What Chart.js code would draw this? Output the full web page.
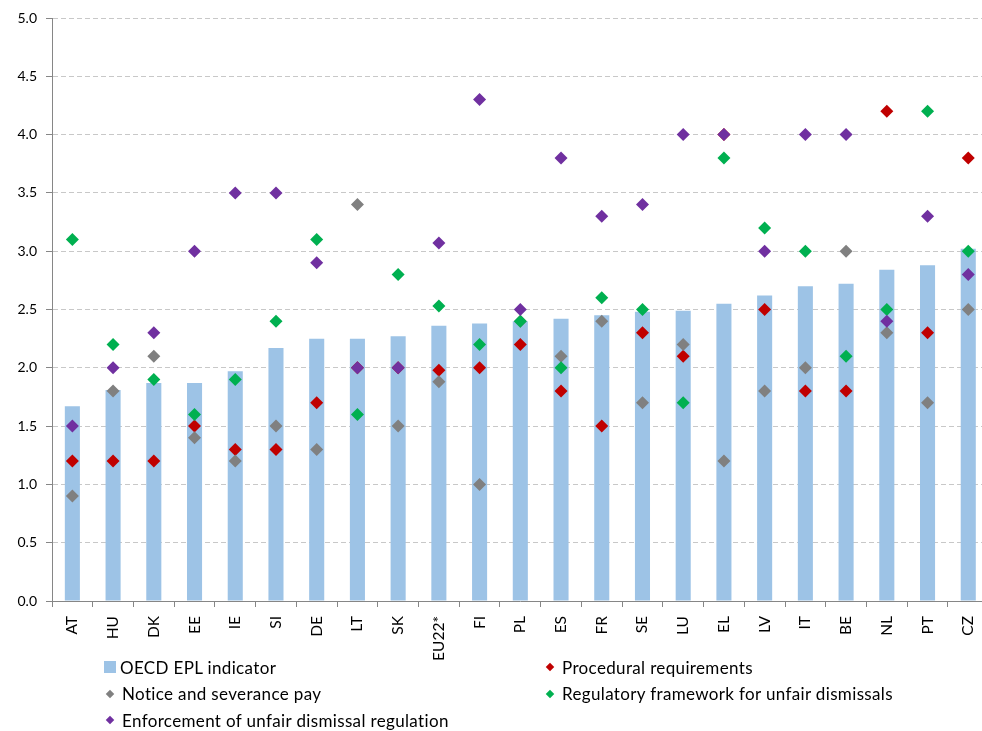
<!DOCTYPE html>
<html>
<head>
<meta charset="utf-8">
<script src="https://cdn.jsdelivr.net/npm/chart.js@4/dist/chart.umd.min.js"></script>
<style>
  html, body { margin: 0; padding: 0; background: #fff; overflow: hidden; }
  #wrap { position: relative; width: 996px; height: 731px; }
  #legend {
    position: absolute; left: 104px; top: 654px;
    display: grid; grid-template-columns: 440px auto; grid-auto-rows: 26.5px;
    font-family: Lato, "DejaVu Sans", sans-serif; font-size: 17px; letter-spacing: 0.35px; color: #000;
  }
  .item { display: flex; align-items: center; white-space: nowrap; }
  .sq { width: 12px; height: 12px; margin-right: 4px; }
  .dm { width: 6px; height: 6px; transform: rotate(45deg); margin: 0 9px 0 3px; }
</style>
</head>
<body>
<div id="wrap">
  <canvas id="myChart"></canvas>
  <div id="legend"></div>
</div>
<script>
// カテゴリと系列データ
const categories = ['AT', 'HU', 'DK', 'EE', 'IE', 'SI', 'DE', 'LT', 'SK', 'EU22*', 'FI', 'PL',
    'ES', 'FR', 'SE', 'LU', 'EL', 'LV', 'IT', 'BE', 'NL', 'PT', 'CZ'];
const eplIndicator = [1.67, 1.81, 1.87, 1.87, 1.97, 2.17, 2.25, 2.25, 2.27, 2.36, 2.38, 2.40,
    2.42, 2.45, 2.48, 2.49, 2.55, 2.62, 2.70, 2.72, 2.84, 2.88, 3.02];
const procedural = [1.2, 1.2, 1.2, 1.5, 1.3, 1.3, 1.7, 2.0, 2.0, 1.98, 2.0, 2.2,
    1.8, 1.5, 2.3, 2.1, 4.0, 2.5, 1.8, 1.8, 4.2, 2.3, 3.8];
const notice = [0.9, 1.8, 2.1, 1.4, 1.2, 1.5, 1.3, 3.4, 1.5, 1.88, 1.0, 2.4,
    2.1, 2.4, 1.7, 2.2, 1.2, 1.8, 2.0, 3.0, 2.3, 1.7, 2.5];
const regulatory = [3.1, 2.2, 1.9, 1.6, 1.9, 2.4, 3.1, 1.6, 2.8, 2.53, 2.2, 2.4,
    2.0, 2.6, 2.5, 1.7, 3.8, 3.2, 3.0, 2.1, 2.5, 4.2, 3.0];
const enforcement = [1.5, 2.0, 2.3, 3.0, 3.5, 3.5, 2.9, 2.0, 2.0, 3.07, 4.3, 2.5,
    3.8, 3.3, 3.4, 4.0, 4.0, 3.0, 4.0, 4.0, 2.4, 3.3, 2.8];
const yTicks = [0, 0.5, 1, 1.5, 2, 2.5, 3, 3.5, 4, 4.5, 5];

const FONT = 'Lato, "DejaVu Sans", sans-serif';
const AXIS_COLOR = '#868686';

function points(label, data, color, order) {
    return {
        type: 'line',
        label: label,
        data: data,
        showLine: false,
        pointStyle: 'rectRot',
        pointRadius: 6.5,
        pointHoverRadius: 6.5,
        pointBackgroundColor: color,
        pointBorderColor: color,
        pointBorderWidth: 0,
        borderColor: color,
        backgroundColor: color,
        order: order
    };
}

const datasets = [
    {
        type: 'bar',
        label: 'OECD EPL indicator',
        data: eplIndicator,
        backgroundColor: '#9DC3E6',
        borderWidth: 0,
        barPercentage: 0.37,
        categoryPercentage: 1,
        order: 5
    },
    points('Procedural requirements', procedural, '#C00000', 4),
    points('Notice and severance pay', notice, '#808080', 3),
    points('Regulatory framework for unfair dismissals', regulatory, '#00B050', 2),
    points('Enforcement of unfair dismissal regulation', enforcement, '#7030A0', 1)
];

const ctx = document.getElementById('myChart').getContext('2d');
const myChart = new Chart(ctx, {
    data: { labels: categories, datasets: datasets },
    options: {
        responsive: true,
        maintainAspectRatio: false,
        animation: false,
        layout: { padding: { top: 18, right: 0, bottom: 0, left: 0 } },
        plugins: {
            legend: { display: false },
            tooltip: { enabled: false },
            title: { display: false }
        },
        scales: {
            x: {
                offset: true,
                grid: {
                    offset: true,
                    drawOnChartArea: false,
                    drawTicks: true,
                    tickLength: 6,
                    tickColor: AXIS_COLOR
                },
                border: { color: AXIS_COLOR, width: 1 },
                ticks: {
                    minRotation: 90,
                    maxRotation: 90,
                    autoSkip: false,
                    padding: 9,
                    color: '#000',
                    font: { family: FONT, size: 15.5 }
                },
                afterFit: function(scale) { scale.height = 130; }
            },
            y: {
                min: 0,
                max: 5,
                afterBuildTicks: function(scale) {
                    scale.ticks = yTicks.map(v => ({ value: v }));
                },
                grid: {
                    color: function(c) { return c.tick && c.tick.value === 0 ? 'rgba(0,0,0,0)' : '#C8C8C8'; },
                    lineWidth: 1,
                    tickLength: 6,
                    tickColor: AXIS_COLOR
                },
                border: { color: AXIS_COLOR, width: 1, dash: [5, 3] },
                ticks: {
                    padding: 9,
                    color: '#000',
                    font: { family: FONT, size: 14 },
                    callback: function(v) { return Number(v).toFixed(1); }
                },
                afterFit: function(scale) { scale.width = 52; }
            }
        }
    }
});

// 凡例（2列）
const legendOrder = [0, 1, 2, 3, 4];
const legendEl = document.getElementById('legend');
legendOrder.forEach(i => {
    const ds = datasets[i];
    const item = document.createElement('div');
    item.className = 'item';
    const mark = document.createElement('span');
    if (ds.type === 'bar') {
        mark.className = 'sq';
        mark.style.background = ds.backgroundColor;
    } else {
        mark.className = 'dm';
        mark.style.background = ds.pointBackgroundColor;
    }
    const text = document.createElement('span');
    text.textContent = ds.label;
    item.appendChild(mark);
    item.appendChild(text);
    legendEl.appendChild(item);
});
</script>
</body>
</html>
